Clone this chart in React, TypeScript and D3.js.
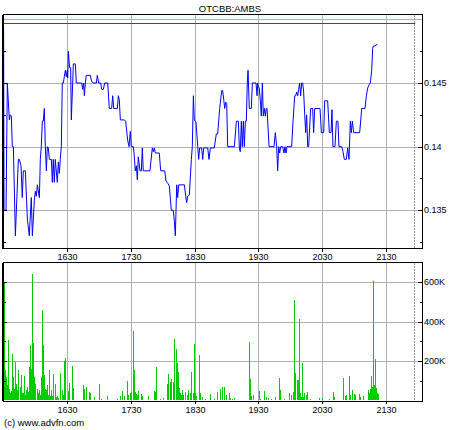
import React from 'react';
import * as d3 from 'd3';

const TITLE = 'OTCBB:AMBS';
const COPYRIGHT = '(c) www.advfn.com';
const SESSION_START = 15 * 60 + 30; // minutes since midnight at the left edge
const hourLabels = ['1630', '1730', '1830', '1930', '2030', '2130'];
const priceTicks = [0.135, 0.14, 0.145];
const priceMinorTicks = [0.1325, 0.1375, 0.1425, 0.1475];
const priceGrid = [0.135, 0.14, 0.145, 0.15];
const prevClose = 0.1497;
const volumeTicks = [200000, 400000, 600000];
const volumeMinorTicks = [100000, 300000, 500000];
const markerMinute = 387;

// minutes after 15:30
const priceMinutes = [
  0.0, 0.4, 2.3, 3.5, 5.4, 6.3, 7.3, 8.2, 9.2, 11.1, 13.9, 14.8, 16.4, 17.6, 18.6, 20.5, 22.4, 24.2, 26.1, 27.1,
  29.0, 29.9, 30.8, 31.8, 33.7, 34.6, 35.5, 36.5, 37.4, 38.4, 39.3, 40.3, 41.2, 42.1, 43.1, 45.0, 45.9, 46.8, 47.8, 48.7,
  50.6, 51.6, 52.5, 53.4, 54.4, 55.3, 56.3, 57.2, 58.2, 59.1, 60.0, 60.4, 61.0, 62.2, 63.2, 63.8, 65.1, 65.7, 67.6, 68.5,
  73.6, 74.5, 75.4, 76.1, 77.0, 77.9, 81.7, 83.0, 84.9, 87.4, 88.3, 89.6, 91.5, 92.4, 94.0, 95.2, 98.1, 99.6, 101.8, 102.8,
  103.7, 107.2, 108.1, 109.0, 110.0, 113.8, 115.0, 116.9, 118.2, 119.4, 120.3, 122.2, 122.9, 124.1, 125.1, 126.0, 126.9, 128.5, 129.8, 130.7,
  131.6, 137.9, 140.1, 141.1, 142.0, 143.0, 146.7, 148.0, 151.8, 153.0, 154.9, 156.2, 158.0, 159.9, 160.9, 161.8, 163.1, 164.0, 165.0, 170.3,
  171.6, 172.5, 173.4, 175.0, 176.9, 177.8, 178.8, 179.7, 180.6, 181.3, 182.9, 183.8, 184.7, 186.6, 187.6, 188.5, 192.3, 193.5, 194.8, 198.5,
  200.4, 201.7, 203.6, 205.5, 206.4, 207.4, 208.3, 209.2, 210.2, 211.1, 217.4, 219.3, 221.2, 222.1, 223.0, 224.0, 224.9, 225.9, 226.8, 227.8,
  228.7, 229.6, 230.3, 231.5, 233.4, 234.4, 237.8, 238.8, 239.4, 240.0, 240.9, 241.9, 242.8, 243.8, 244.7, 245.7, 246.6, 247.5, 248.2, 250.1,
  254.8, 256.0, 257.3, 258.2, 259.2, 260.1, 261.1, 262.9, 264.2, 265.1, 266.1, 267.0, 271.4, 272.7, 274.3, 275.2, 276.1, 277.1, 278.0, 278.9,
  279.9, 280.8, 281.8, 282.7, 283.7, 284.6, 285.5, 286.5, 287.4, 288.4, 289.3, 291.2, 292.1, 293.1, 298.1, 299.4, 301.6, 302.5, 305.3, 306.9,
  308.5, 309.4, 310.3, 312.2, 313.5, 315.0, 316.0, 318.5, 319.8, 321.0, 322.9, 324.2, 325.4, 326.7, 327.6, 328.6, 329.8, 335.5, 337.4, 340.5,
  341.8, 343.0, 344.6, 345.5, 346.8, 347.7, 348.3, 349.9, 350.8, 352.1,
];
const prices = [
  0.1492, 0.1350, 0.1350, 0.1450, 0.1421, 0.1425, 0.1424, 0.1400, 0.1400, 0.1330, 0.1390, 0.1390, 0.1385, 0.1360, 0.1381, 0.1381, 0.1343, 0.1330, 0.1360, 0.1330,
  0.1358, 0.1365, 0.1361, 0.1370, 0.1360, 0.1390, 0.1400, 0.1420, 0.1420, 0.1430, 0.1400, 0.1381, 0.1400, 0.1399, 0.1390, 0.1390, 0.1372, 0.1390, 0.1372, 0.1390,
  0.1372, 0.1388, 0.1379, 0.1390, 0.1400, 0.1450, 0.1450, 0.1455, 0.1460, 0.1455, 0.1460, 0.1454, 0.1475, 0.1462, 0.1462, 0.1421, 0.1450, 0.1465, 0.1465, 0.1450,
  0.1450, 0.1445, 0.1450, 0.1440, 0.1450, 0.1456, 0.1456, 0.1451, 0.1450, 0.1450, 0.1456, 0.1450, 0.1450, 0.1445, 0.1445, 0.1450, 0.1450, 0.1430, 0.1430, 0.1440,
  0.1430, 0.1430, 0.1440, 0.1437, 0.1421, 0.1421, 0.1420, 0.1405, 0.1400, 0.1412, 0.1400, 0.1400, 0.1395, 0.1381, 0.1385, 0.1374, 0.1392, 0.1381, 0.1381, 0.1399,
  0.1381, 0.1381, 0.1399, 0.1396, 0.1399, 0.1395, 0.1395, 0.1381, 0.1381, 0.1373, 0.1371, 0.1369, 0.1350, 0.1350, 0.1341, 0.1330, 0.1370, 0.1360, 0.1370, 0.1370,
  0.1361, 0.1356, 0.1361, 0.1362, 0.1390, 0.1400, 0.1440, 0.1421, 0.1420, 0.1419, 0.1400, 0.1390, 0.1399, 0.1399, 0.1390, 0.1399, 0.1399, 0.1390, 0.1399, 0.1399,
  0.1410, 0.1410, 0.1430, 0.1444, 0.1444, 0.1437, 0.1430, 0.1435, 0.1434, 0.1400, 0.1400, 0.1420, 0.1420, 0.1399, 0.1396, 0.1420, 0.1400, 0.1420, 0.1400, 0.1420,
  0.1420, 0.1450, 0.1460, 0.1430, 0.1430, 0.1450, 0.1450, 0.1440, 0.1450, 0.1447, 0.1446, 0.1436, 0.1424, 0.1450, 0.1424, 0.1430, 0.1424, 0.1430, 0.1430, 0.1400,
  0.1400, 0.1411, 0.1400, 0.1381, 0.1400, 0.1395, 0.1400, 0.1400, 0.1395, 0.1400, 0.1395, 0.1400, 0.1400, 0.1420, 0.1440, 0.1440, 0.1443, 0.1440, 0.1445, 0.1450,
  0.1440, 0.1450, 0.1450, 0.1443, 0.1425, 0.1411, 0.1425, 0.1400, 0.1400, 0.1416, 0.1430, 0.1430, 0.1411, 0.1430, 0.1430, 0.1411, 0.1411, 0.1436, 0.1436, 0.1411,
  0.1411, 0.1429, 0.1400, 0.1400, 0.1420, 0.1420, 0.1400, 0.1400, 0.1396, 0.1390, 0.1390, 0.1399, 0.1390, 0.1420, 0.1411, 0.1420, 0.1411, 0.1411, 0.1430, 0.1430,
  0.1440, 0.1446, 0.1449, 0.1450, 0.1460, 0.1477, 0.1479, 0.1479, 0.1480, 0.1480,
];

// minutes after 15:30, volume in thousands
const volumeMinutes = [
  0, 1, 2, 3, 4, 5, 6, 7, 8, 9, 10, 11, 12, 13, 14, 15, 16, 17, 18, 19, 20, 21, 22, 23, 24, 25, 26, 27, 28, 29,
  30, 31, 32, 33, 34, 35, 36, 37, 38, 39, 40, 41, 42, 43, 44, 45, 46, 47, 48, 49, 50, 51, 53, 55, 56, 57, 58, 61, 62, 64,
  65, 75, 76, 78, 80, 81, 85, 90, 92, 97, 107, 110, 112, 113, 116, 117, 119, 120, 122, 123, 124, 125, 126, 127, 129, 130, 136, 142, 143, 144,
  147, 150, 154, 155, 157, 158, 160, 161, 162, 163, 164, 165, 166, 167, 168, 169, 171, 173, 174, 176, 177, 178, 179, 180, 181, 184, 185, 187, 190, 194,
  198, 201, 204, 206, 208, 210, 212, 213, 215, 217, 231, 232, 233, 235, 241, 242, 245, 247, 249, 252, 256, 259, 260, 264, 269, 271, 273, 274, 275, 276,
  277, 278, 279, 280, 281, 282, 283, 285, 286, 289, 297, 300, 307, 310, 311, 320, 322, 323, 325, 326, 328, 330, 331, 335, 336, 339, 343, 344, 345, 346,
  347, 348, 349, 350, 351, 352, 353,
];
const volumesK = [
  595, 154, 120, 80, 307, 60, 40, 50, 236, 120, 60, 197, 86, 55, 154, 70, 132, 40, 39, 125, 30, 53, 69, 45, 171, 281, 158, 642, 290, 120,
  86, 60, 36, 53, 30, 120, 459, 281, 129, 60, 53, 78, 30, 154, 25, 53, 25, 137, 86, 20, 22, 15, 141, 53, 30, 200, 214, 46, 90, 174,
  61, 78, 56, 69, 44, 39, 19, 86, 10, 25, 10, 22, 46, 22, 97, 27, 36, 42, 353, 154, 44, 35, 27, 49, 31, 24, 22, 49, 44, 171,
  10, 15, 83, 137, 95, 107, 95, 314, 264, 188, 146, 61, 40, 30, 53, 27, 44, 27, 53, 36, 146, 36, 286, 36, 22, 230, 36, 19, 10, 32,
  10, 44, 58, 69, 69, 27, 36, 15, 10, 12, 295, 108, 24, 27, 46, 10, 46, 19, 14, 10, 19, 114, 53, 10, 36, 27, 44, 510, 142, 103,
  103, 412, 36, 19, 193, 19, 39, 27, 41, 10, 15, 15, 10, 41, 19, 115, 24, 27, 124, 27, 53, 31, 27, 31, 19, 24, 53, 36, 60, 124,
  69, 608, 78, 210, 61, 36, 32,
];

const FONT = 'Liberation Sans, Arial, sans-serif';
const GRID = '#aab2b2';

const labelMinute = (s: string) => parseInt(s.slice(0, 2), 10) * 60 + parseInt(s.slice(2), 10) - SESSION_START;

export default function App() {
  const left = 3.5;
  const right = 422;
  const x = d3.scaleLinear().domain([0, 394.2]).range([3.6, right]);
  const pTop = 14.5, pBot = 248.5;
  const vTop = 262.5, vBot = 401;
  const yP = d3.scaleLinear().domain([0.132, 0.15042]).range([pBot, pTop - 0.5]);
  const yV = d3.scaleLinear().domain([0, 702000]).range([400.5, 262.3]);

  const priceData = priceMinutes.map((m, i) => [m, prices[i]] as [number, number]);
  const line = d3
    .line<[number, number]>()
    .x((d) => x(d[0]))
    .y((d) => yP(d[1]));

  const hourX = hourLabels.map((l) => Math.round(x(labelMinute(l))) + 0.5);
  const markX = Math.round(x(markerMinute)) + 0.5;
  const redY = Math.round(yP(prevClose)) + 0.5;

  return (
    <svg
      width={460}
      height={430}
      style={{ position: 'absolute', left: 0, top: 0, background: '#fff' }}
      fontFamily={FONT}
    >
      <rect x={0} y={0} width={460} height={430} fill="#fff" />
      <text x={230} y={12} fontSize={9.5} textAnchor="middle" fill="#000">
        {TITLE}
      </text>

      {/* Price panel grid */}
      <g shapeRendering="crispEdges" stroke={GRID} strokeWidth={1}>
        {priceGrid.map((p) => (
          <line key={'pg' + p} x1={left} x2={right} y1={Math.round(yP(p)) + 0.5} y2={Math.round(yP(p)) + 0.5} />
        ))}
        {hourX.map((hx, i) => (
          <line key={'pv' + i} x1={hx} x2={hx} y1={pTop} y2={pBot} />
        ))}
        <line x1={markX} x2={markX} y1={pTop} y2={pBot} stroke="#999" strokeDasharray="2,1" />
      </g>
      <line x1={left} x2={markX} y1={redY} y2={redY} stroke="#ee0000" strokeWidth={1} shapeRendering="crispEdges" />
      <path d={line(priceData) || ''} fill="none" stroke="#0000ff" strokeWidth={1} strokeLinejoin="round" />

      {/* Price frame and ticks */}
      <g shapeRendering="crispEdges" stroke="#000" strokeWidth={1}>
        <rect x={left} y={pTop} width={right - left} height={pBot - pTop} fill="none" />
        <line x1={3} x2={3} y1={pTop} y2={pBot} strokeWidth={1.5} />
        {priceTicks.map((p) => (
          <g key={'pt' + p}>
            <line x1={right - 4} x2={right} y1={Math.round(yP(p)) + 0.5} y2={Math.round(yP(p)) + 0.5} />
            <line x1={left} x2={left + 3} y1={Math.round(yP(p)) + 0.5} y2={Math.round(yP(p)) + 0.5} />
          </g>
        ))}
        {priceMinorTicks.map((p) => (
          <g key={'pm' + p}>
            <line x1={right - 2} x2={right} y1={Math.round(yP(p)) + 0.5} y2={Math.round(yP(p)) + 0.5} />
            <line x1={left} x2={left + 2} y1={Math.round(yP(p)) + 0.5} y2={Math.round(yP(p)) + 0.5} />
          </g>
        ))}
        {hourX.map((hx, i) => (
          <line key={'pb' + i} x1={hx} x2={hx} y1={pBot} y2={pBot + 3} />
        ))}
      </g>
      {priceTicks.map((p) => (
        <text key={'pl' + p} x={424} y={yP(p) + 3} fontSize={9} fill="#000">
          {String(p)}
        </text>
      ))}
      {hourLabels.map((l, i) => (
        <text key={'hl' + i} x={hourX[i]} y={259.5} fontSize={9} textAnchor="middle" fill="#000">
          {l}
        </text>
      ))}

      {/* Volume panel grid */}
      <g shapeRendering="crispEdges" stroke={GRID} strokeWidth={1}>
        {volumeTicks.map((v) => (
          <line key={'vg' + v} x1={left} x2={right} y1={Math.round(yV(v)) + 0.5} y2={Math.round(yV(v)) + 0.5} />
        ))}
        {hourX.map((hx, i) => (
          <line key={'vv' + i} x1={hx} x2={hx} y1={vTop} y2={vBot} />
        ))}
        <line x1={markX} x2={markX} y1={vTop} y2={vBot} stroke="#999" strokeDasharray="2,1" />
      </g>
      <g shapeRendering="crispEdges" fill="#00cc00">
        {volumeMinutes.map((m, i) => {
          const bx = Math.round(x(m));
          const top = Math.round(yV(volumesK[i] * 1000));
          return <rect key={'vb' + i} x={bx} y={top} width={1} height={400 - top} />;
        })}
      </g>

      {/* Volume frame and ticks */}
      <g shapeRendering="crispEdges" stroke="#000" strokeWidth={1}>
        <rect x={left} y={vTop} width={right - left} height={vBot - vTop} fill="none" />
        <line x1={3} x2={3} y1={vTop} y2={vBot} strokeWidth={1.5} />
        {volumeTicks.map((v) => (
          <g key={'vt' + v}>
            <line x1={right - 4} x2={right} y1={Math.round(yV(v)) + 0.5} y2={Math.round(yV(v)) + 0.5} />
            <line x1={left} x2={left + 3} y1={Math.round(yV(v)) + 0.5} y2={Math.round(yV(v)) + 0.5} />
          </g>
        ))}
        {volumeMinorTicks.map((v) => (
          <g key={'vm' + v}>
            <line x1={right - 2} x2={right} y1={Math.round(yV(v)) + 0.5} y2={Math.round(yV(v)) + 0.5} />
            <line x1={left} x2={left + 2} y1={Math.round(yV(v)) + 0.5} y2={Math.round(yV(v)) + 0.5} />
          </g>
        ))}
        {hourX.map((hx, i) => (
          <line key={'vbt' + i} x1={hx} x2={hx} y1={vBot} y2={vBot + 3} />
        ))}
      </g>
      {volumeTicks.map((v) => (
        <text key={'vl' + v} x={424} y={yV(v) + 3} fontSize={9} fill="#000">
          {`${v / 1000}K`}
        </text>
      ))}
      {hourLabels.map((l, i) => (
        <text key={'vhl' + i} x={hourX[i]} y={413} fontSize={9} textAnchor="middle" fill="#000">
          {l}
        </text>
      ))}

      <text x={4} y={426} fontSize={9.5} fill="#000">
        {COPYRIGHT}
      </text>
    </svg>
  );
}
